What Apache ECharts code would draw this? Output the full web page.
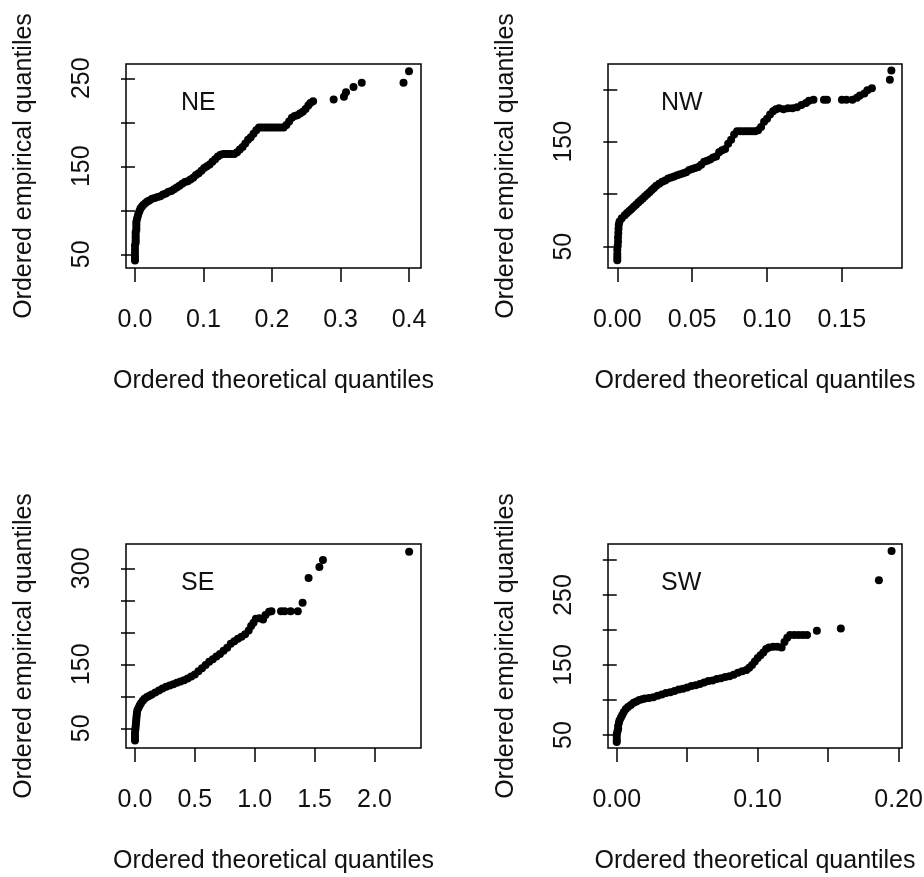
<!DOCTYPE html>
<html><head><meta charset="utf-8">
<script src="https://cdn.jsdelivr.net/npm/echarts@6/dist/echarts.min.js"></script>
<style>html,body{margin:0;padding:0;background:#fff}#c{width:924px;height:877px}</style>
</head><body><div id="c"></div>
<script>
const panelNames = ['NE', 'NW', 'SE', 'SW'];
const xTitle = 'Ordered theoretical quantiles';
const yTitle = 'Ordered empirical quantiles';

const neX = [0,0,0,0,0,0,0.001,0.001,0.001,0.001,0.001,0.002,0.002,0.002,0.002,0.003,0.004,0.005,0.0065,0.008,0.010,0.012,0.015,0.018,0.021,0.025,0.029,0.033,0.037,0.041,0.045,0.049,0.053,0.057,0.061,0.065,0.069,0.073,0.077,0.081,0.085,0.089,0.093,0.097,0.101,0.105,0.109,0.113,0.117,0.121,0.125,0.129,0.133,0.137,0.141,0.145,0.149,0.153,0.157,0.161,0.165,0.169,0.173,0.177,0.181,0.185,0.189,0.193,0.197,0.201,0.205,0.209,0.213,0.217,0.221,0.225,0.229,0.233,0.237,0.241,0.245,0.249,0.253,0.256,0.260,0.290,0.305,0.308,0.319,0.331,0.392,0.400];
const neY = [43,45,48,52,56,60,63,66,69,72,75,78,81,84,87,90,93,96,99,102,104,106,108,110,111,113,114,115,116,118,119,121,122,124,126,128,130,132,133,135,137,140,142,145,148,150,152,155,158,161,163,164,164,164,164,164,166,169,172,176,180,183,187,191,194,194,194,194,194,194,194,194,194,194,197,201,205,207,208,210,212,215,219,222,224,226,229,234,240,245,245,258];

const nwX = [0,0,0,0,0.0003,0.0005,0.0005,0.0007,0.0008,0.001,0.0015,0.003,0.005,0.0065,0.008,0.0095,0.011,0.0125,0.014,0.0155,0.017,0.0185,0.020,0.0215,0.023,0.0245,0.026,0.028,0.030,0.032,0.034,0.036,0.038,0.040,0.042,0.044,0.046,0.048,0.050,0.052,0.054,0.056,0.058,0.060,0.062,0.064,0.066,0.068,0.070,0.072,0.074,0.076,0.078,0.080,0.082,0.084,0.086,0.088,0.090,0.092,0.094,0.096,0.098,0.100,0.102,0.104,0.106,0.108,0.111,0.114,0.117,0.120,0.123,0.126,0.128,0.131,0.138,0.140,0.150,0.153,0.157,0.160,0.162,0.165,0.167,0.170,0.182,0.183];
const nwY = [37,40,43,47,51,55,59,63,67,71,74,77,80,82,84,86,88,90,92,94,96,98,100,102,104,106,108,110,112,113,115,116,117,118,119,120,121,123,124,125,126,128,131,132,133,135,136,140,142,143,148,152,157,160,160,160,160,160,160,160,161,164,169,172,176,179,181,182,181,182,182,183,185,187,189,190,190,190,190,190,190,192,194,196,199,201,209,218];

const seX = [0,0,0,0,0.002,0.004,0.006,0.008,0.010,0.012,0.014,0.016,0.02,0.03,0.04,0.05,0.065,0.08,0.10,0.12,0.14,0.17,0.20,0.23,0.26,0.29,0.32,0.35,0.38,0.41,0.44,0.47,0.50,0.53,0.56,0.59,0.62,0.65,0.68,0.71,0.74,0.77,0.80,0.83,0.86,0.89,0.92,0.95,0.97,0.99,1.01,1.04,1.07,1.09,1.12,1.14,1.22,1.25,1.30,1.36,1.40,1.45,1.54,1.57,2.29];
const seY = [31,34,38,42,46,50,54,58,62,66,70,74,78,82,86,89,93,96,99,101,103,106,109,112,115,117,119,121,123,125,128,131,134,139,144,149,154,158,162,166,171,176,182,186,190,193,197,203,210,215,221,222,220,227,232,233,233,233,233,233,246,285,302,313,326];

const swX = [0,0,0,0,0.0005,0.001,0.001,0.0015,0.002,0.003,0.004,0.005,0.0065,0.008,0.010,0.012,0.014,0.016,0.018,0.020,0.023,0.026,0.029,0.032,0.035,0.038,0.041,0.044,0.047,0.050,0.053,0.056,0.059,0.062,0.065,0.068,0.071,0.074,0.077,0.080,0.083,0.086,0.089,0.092,0.094,0.096,0.098,0.100,0.102,0.104,0.106,0.108,0.111,0.114,0.117,0.119,0.121,0.123,0.126,0.129,0.132,0.135,0.142,0.159,0.186,0.195];
const swY = [40,43,47,51,55,59,63,67,71,75,79,83,87,90,93,96,98,100,101,102,103,104,106,108,110,111,113,115,116,118,120,121,123,125,127,128,130,131,133,134,136,139,141,143,146,150,155,160,164,168,173,175,176,176,175,183,189,193,193,193,193,193,199,202,271,313];

const neXTicks = [0, 0.1, 0.2, 0.3, 0.4], neXLabels = [0, 0.1, 0.2, 0.3, 0.4];
const neYTicks = [50, 100, 150, 200, 250], neYLabels = [50, 150, 250];
const nwXTicks = [0, 0.05, 0.10, 0.15], nwXLabels = [0, 0.05, 0.10, 0.15];
const nwYTicks = [50, 100, 150, 200], nwYLabels = [50, 150];
const seXTicks = [0, 0.5, 1.0, 1.5, 2.0], seXLabels = [0, 0.5, 1.0, 1.5, 2.0];
const seYTicks = [50, 100, 150, 200, 250, 300], seYLabels = [50, 150, 300];
const swXTicks = [0, 0.05, 0.10, 0.15, 0.20], swXLabels = [0, 0.10, 0.20];
const swYTicks = [50, 100, 150, 200, 250, 300], swYLabels = [50, 150, 250];

// layout / style (not data)
const FONT = '"Liberation Sans", Arial, sans-serif';
const FS = 25;
const layout = [
  {left: 126, top: 64, width: 295, height: 204, xr: [-0.0131, 0.4175], yr: [34.4, 266.2], dec: 1, lbl: [181, 91]},
  {left: 608, top: 64, width: 294, height: 204, xr: [-0.0062, 0.1901], yr: [29.7, 224.1], dec: 2, lbl: [661, 91]},
  {left: 126, top: 544, width: 295, height: 204, xr: [-0.075, 2.389], yr: [19.2, 338.0], dec: 1, lbl: [181, 571]},
  {left: 608, top: 544, width: 294, height: 204, xr: [-0.0062, 0.2024], yr: [31.4, 322.9], dec: 2, lbl: [661, 571]}
];
const xs = [neX, nwX, seX, swX], ys = [neY, nwY, seY, swY];
const xt = [neXTicks, nwXTicks, seXTicks, swXTicks], xl = [neXLabels, nwXLabels, seXLabels, swXLabels];
const yt = [neYTicks, nwYTicks, seYTicks, swYTicks], yl = [neYLabels, nwYLabels, seYLabels, swYLabels];

const grid = [], xAxis = [], yAxis = [], series = [], title = [];
layout.forEach((L, i) => {
  grid.push({left: L.left, top: L.top, width: L.width, height: L.height, show: true,
    borderColor: '#000', borderWidth: 1.5, backgroundColor: '#fff', containLabel: false, outerBoundsMode: 'none'});
  xAxis.push({type: 'value', gridIndex: i, min: L.xr[0], max: L.xr[1],
    splitLine: {show: false}, axisLine: {show: false},
    axisTick: {show: true, inside: false, length: 14, customValues: xt[i], lineStyle: {color: '#000', width: 1.5}},
    axisLabel: {customValues: xl[i], margin: 40, color: '#111', fontSize: FS, fontFamily: FONT,
      formatter: v => Number(v).toFixed(L.dec)},
    name: xTitle, nameLocation: 'middle', nameGap: 101,
    nameTextStyle: {color: '#111', fontSize: FS, fontFamily: FONT}});
  yAxis.push({type: 'value', gridIndex: i, min: L.yr[0], max: L.yr[1],
    splitLine: {show: false}, axisLine: {show: false},
    axisTick: {show: true, inside: false, length: 14, customValues: yt[i], lineStyle: {color: '#000', width: 1.5}},
    axisLabel: {customValues: yl[i], rotate: 90, margin: 31, color: '#111', fontSize: FS, fontFamily: FONT,
      formatter: v => String(Math.round(v))},
    name: yTitle, nameLocation: 'middle', nameGap: 89,
    nameTextStyle: {color: '#111', fontSize: FS, fontFamily: FONT}});
  series.push({type: 'scatter', xAxisIndex: i, yAxisIndex: i, symbol: 'circle', symbolSize: 8,
    itemStyle: {color: '#000', opacity: 1}, silent: true, animation: false,
    data: xs[i].map((x, k) => [x, ys[i][k]])});
  title.push({text: panelNames[i], left: L.lbl[0], top: L.lbl[1], padding: 0,
    textStyle: {color: '#111', fontSize: FS, fontWeight: 'normal', fontFamily: FONT}});
});

const chart = echarts.init(document.getElementById('c'), null, {renderer: 'canvas'});
chart.setOption({backgroundColor: '#fff', animation: false, title, grid, xAxis, yAxis, series});
</script></body></html>
